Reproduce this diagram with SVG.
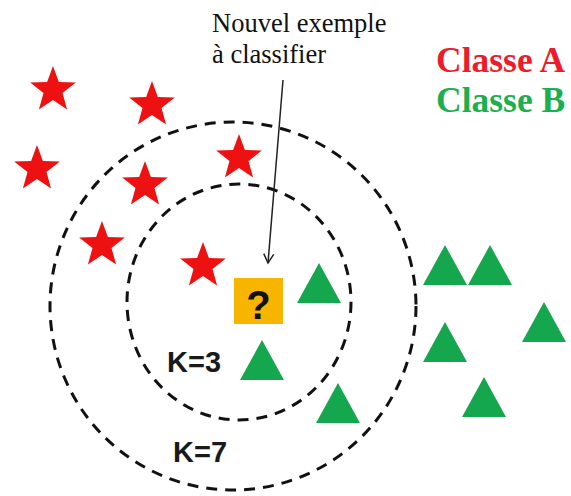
<svg xmlns="http://www.w3.org/2000/svg" xmlns:xlink="http://www.w3.org/1999/xlink" width="571" height="496" viewBox="0 0 571 496">
<style>
.ring{fill:none;stroke:#111;stroke-width:3;stroke-dasharray:11 8}
.star{fill:#EE1111}
.tri{fill:#14A74E}
.note{font-family:"Liberation Serif",serif;font-size:26.5px;fill:#111}
.cls{font-family:"Liberation Serif",serif;font-size:35.5px;font-weight:bold}
.k{font-family:"Liberation Sans",Arial,sans-serif;font-size:29px;font-weight:bold;fill:#1a1a1a}
</style>
<defs>
<polygon id="s" points="0,-24 5.88,-8.09 22.83,-7.42 9.51,3.09 14.11,19.42 0,10 -14.11,19.42 -9.51,3.09 -22.83,-7.42 -5.88,-8.09"/>
<polygon id="t" points="0,0 22,40 -22,40"/>
<marker id="arr" markerWidth="12" markerHeight="12" refX="10" refY="6" orient="auto" markerUnits="userSpaceOnUse">
<path d="M1,1 L10,6 L1,11" fill="none" stroke="#222" stroke-width="1.5"/>
</marker>
</defs>
<rect width="571" height="496" fill="#fff"/>
<g id="rings">
<ellipse id="k7" class="ring" cx="233" cy="306" rx="183" ry="184"/>
<ellipse id="k3" class="ring" cx="239" cy="302" rx="112" ry="118"/>
</g>
<g id="stars" class="star">
<use xlink:href="#s" x="53" y="90"/>
<use xlink:href="#s" x="152" y="105"/>
<use xlink:href="#s" x="37" y="169"/>
<use xlink:href="#s" x="145" y="185"/>
<use xlink:href="#s" x="239" y="158"/>
<use xlink:href="#s" x="102" y="245"/>
<use xlink:href="#s" x="203" y="266"/>
</g>
<g id="triangles" class="tri">
<use xlink:href="#t" x="319" y="263"/>
<use xlink:href="#t" x="262" y="340"/>
<use xlink:href="#t" x="338" y="383"/>
<use xlink:href="#t" x="445" y="245"/>
<use xlink:href="#t" x="490" y="245"/>
<use xlink:href="#t" x="544" y="302"/>
<use xlink:href="#t" x="445" y="322"/>
<use xlink:href="#t" x="484" y="377"/>
</g>
<g id="query">
<rect x="234" y="278" width="49" height="46" fill="#F7B500"/>
<text x="258.5" y="319" text-anchor="middle" font-family="'Liberation Sans',Arial,sans-serif" font-size="40" font-weight="bold" fill="#111">?</text>
</g>
<g id="connectors">
<line x1="283" y1="80" x2="268" y2="263" stroke="#222" stroke-width="1.5" marker-end="url(#arr)"/>
</g>
<g id="label-note">
<text class="note" x="212" y="32">Nouvel exemple</text>
<text class="note" x="212" y="63">à classifier</text>
</g>
<g id="legend">
<text class="cls" x="436" y="72" fill="#EE1C2A">Classe A</text>
<text class="cls" x="436" y="112" fill="#1BAF50">Classe B</text>
</g>
<g id="klabels">
<text class="k" x="167" y="372">K=3</text>
<text class="k" x="173" y="462">K=7</text>
</g>
</svg>
